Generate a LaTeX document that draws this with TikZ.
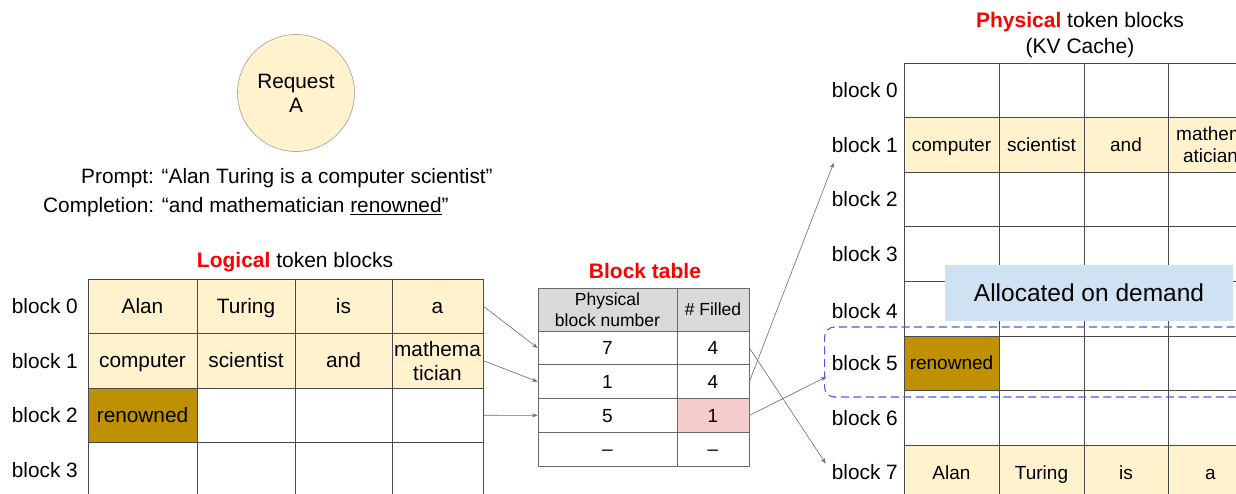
\documentclass[tikz,border=0pt]{standalone}
\usepackage{fontspec}
\setmainfont{Liberation Sans}
\usetikzlibrary{arrows.meta,calc}
\definecolor{cream}{HTML}{FFF2CC}
\definecolor{gold}{HTML}{BF9000}
\definecolor{pinkc}{HTML}{F4CCCC}
\definecolor{hdr}{HTML}{D9D9D9}
\definecolor{alloc}{HTML}{CFE2F3}
\definecolor{gridc}{HTML}{4A4A4A}
\definecolor{tgrid}{HTML}{6A6A6A}
\definecolor{arrc}{HTML}{5B6C8C}
\definecolor{dashc}{HTML}{4F55F2}
\definecolor{circb}{HTML}{A0A0A0}
\definecolor{titred}{HTML}{FF0000}
\begin{document}
\begin{tikzpicture}[x=1pt,y=-1pt,
  big/.style={font=\fontsize{20.8}{24}\selectfont},
  mid/.style={font=\fontsize{19}{22}\selectfont},
  small/.style={font=\fontsize{17.5}{21}\selectfont},
  % line boxes of one line, with the font's ascent and descent
  onebig/.style={text height=18.8pt,text depth=4.4pt},
  onemid/.style={text height=17.2pt,text depth=4pt},
  onesmall/.style={text height=15.8pt,text depth=3.7pt},
  lab/.style={big,inner sep=0pt,anchor=east},
  title/.style={font=\fontsize{21}{26}\selectfont,align=center,inner sep=0pt},
  lcellm/.style={big,draw=gridc,line width=0.8pt,inner sep=0pt,align=center,minimum height=54.5pt},
  lcell/.style={lcellm,onebig},
  pcellm/.style={mid,draw=gridc,line width=0.8pt,inner sep=0pt,align=center,minimum height=54.6pt},
  pcell/.style={pcellm,onemid},
  bcellm/.style={draw=tgrid,line width=0.8pt,inner sep=0pt,align=center,minimum height=33.75pt},
  bcell/.style={bcellm,mid,onemid},
  lw0/.style={minimum width=109pt}, lw1/.style={minimum width=98pt},
  lw2/.style={minimum width=97pt},  lw3/.style={minimum width=91pt},
  pw0/.style={minimum width=95pt},  pw1/.style={minimum width=85pt},
  pw2/.style={minimum width=84pt},  pw3/.style={minimum width=85pt},
  bw0/.style={minimum width=139pt}, bw1/.style={minimum width=72pt},
  conn/.style={draw=arrc,line width=0.6pt,-{Stealth[length=5.5pt,width=4pt]}}]
\useasboundingbox (0,0) rectangle (1236,493);
\clip (0,0) rectangle (1236,493);

% request and its text
\node[circle,draw=circb,line width=0.6pt,fill=cream,minimum size=117pt,inner sep=0pt,
      big,align=center] (req) at (296,93) {Request\\A};
\node[big,inner sep=0pt,anchor=west] (prompt) at (81,178)
  {Prompt: “Alan Turing is a computer scientist”};
\node[big,inner sep=0pt,anchor=west] (compl) at (43,207)
  {Completion: “and mathematician \underline{renowned}”};

% logical token blocks
\node[title] (ltitle) at (295,262) {\textcolor{titred}{\textbf{Logical}} token blocks};
\foreach \r/\cy in {0/306.25,1/360.75,2/415.25,3/469.75}
  \node[lab] (Ll\r) at (78,\cy) {block \r};
\node[lcell,lw0,fill=cream] (L00) at (142.5,306.25) {Alan};
\node[lcell,lw1,fill=cream] (L01) at (246,306.25) {Turing};
\node[lcell,lw2,fill=cream] (L02) at (343.5,306.25) {is};
\node[lcell,lw3,fill=cream] (L03) at (437.5,306.25) {a};
\node[lcell,lw0,fill=cream] (L10) at (142.5,360.75) {computer};
\node[lcell,lw1,fill=cream] (L11) at (246,360.75) {scientist};
\node[lcell,lw2,fill=cream] (L12) at (343.5,360.75) {and};
\node[lcellm,lw3,fill=cream] (L13) at (437.5,360.75) {mathema\\tician};
\node[lcell,lw0,fill=gold] (L20) at (142.5,415.25) {renowned};
\node[lcell,lw1] (L21) at (246,415.25) {};
\node[lcell,lw2] (L22) at (343.5,415.25) {};
\node[lcell,lw3] (L23) at (437.5,415.25) {};
\node[lcell,lw0] (L30) at (142.5,469.75) {};
\node[lcell,lw1] (L31) at (246,469.75) {};
\node[lcell,lw2] (L32) at (343.5,469.75) {};
\node[lcell,lw3] (L33) at (437.5,469.75) {};

% block table
\node[title] (btitle) at (645,271) {\textcolor{titred}{\textbf{Block table}}};
\node[bcellm,bw0,small,fill=hdr,minimum height=43pt] (BH0) at (607.5,309.5) {Physical\\block number};
\node[bcellm,bw1,small,onesmall,fill=hdr,minimum height=43pt] (BH1) at (713,309.5) {\# Filled};
\node[bcell,bw0] (B00) at (607.5,347.9) {7};
\node[bcell,bw1] (B01) at (713,347.9) {4};
\node[bcell,bw0] (B10) at (607.5,381.6) {1};
\node[bcell,bw1] (B11) at (713,381.6) {4};
\node[bcell,bw0] (B20) at (607.5,415.4) {5};
\node[bcell,bw1,fill=pinkc] (B21) at (713,415.4) {1};
\node[bcell,bw0] (B30) at (607.5,449.1) {--};
\node[bcell,bw1] (B31) at (713,449.1) {--};

% physical token blocks (KV cache)
\node[title] (ptitle) at (1080,35) {\textcolor{titred}{\textbf{Physical}} token blocks\\(KV Cache)};
\foreach \r/\cy in {0/90.3,1/144.9,2/199.5,3/254.1,4/311,5/363.3,6/417.9,7/472.5}
  \node[lab] (Pl\r) at (898,\cy) {block \r};
\foreach \r/\cy in {0/90.3,2/199.5,3/254.1,4/308.7,6/417.9}{
  \node[pcell,pw0] (P\r-0) at (951.5,\cy) {};
  \node[pcell,pw1] (P\r-1) at (1041.5,\cy) {};
  \node[pcell,pw2] (P\r-2) at (1126,\cy) {};
  \node[pcell,pw3] (P\r-3) at (1210.5,\cy) {};
}
\node[pcell,pw0,fill=cream] (P1-0) at (951.5,144.9) {computer};
\node[pcell,pw1,fill=cream] (P1-1) at (1041.5,144.9) {scientist};
\node[pcell,pw2,fill=cream] (P1-2) at (1126,144.9) {and};
\node[pcellm,pw3,fill=cream] (P1-3) at (1210.5,144.9) {mathem\\atician};
\node[pcell,pw0,fill=gold] (P5-0) at (951.5,363.3) {renowned};
\node[pcell,pw1] (P5-1) at (1041.5,363.3) {};
\node[pcell,pw2] (P5-2) at (1126,363.3) {};
\node[pcell,pw3] (P5-3) at (1210.5,363.3) {};
\node[pcell,pw0,fill=cream] (P7-0) at (951.5,472.5) {Alan};
\node[pcell,pw1,fill=cream] (P7-1) at (1041.5,472.5) {Turing};
\node[pcell,pw2,fill=cream] (P7-2) at (1126,472.5) {is};
\node[pcell,pw3,fill=cream] (P7-3) at (1210.5,472.5) {a};

% on-demand allocation
\node[fill=alloc,minimum width=288pt,minimum height=56pt,inner sep=0pt,
      font=\fontsize{24.5}{28}\selectfont] (demand) at (1089,293) {Allocated on demand};
\node[draw=dashc,line width=1.1pt,dash pattern=on 8pt off 4.5pt,rounded corners=10pt,
      minimum width=470pt,minimum height=70pt,inner sep=0pt,anchor=west] (newblk) at (824,362) {};

% mappings
\draw[conn] (L03.east) -- (B00.west);
\draw[conn] (L13.east) -- (B10.west);
\draw[conn] (L23.east) -- (B20.west);
\draw[conn] (B01.east) -- ($(Pl7.west)+(-6,-9)$);
\draw[conn] (B11.east) -- ($(Pl1.south west)+(2,10)$);
\draw[conn] (B21.east) -- ($(newblk.west)+(2,15)$);
\end{tikzpicture}
\end{document}
